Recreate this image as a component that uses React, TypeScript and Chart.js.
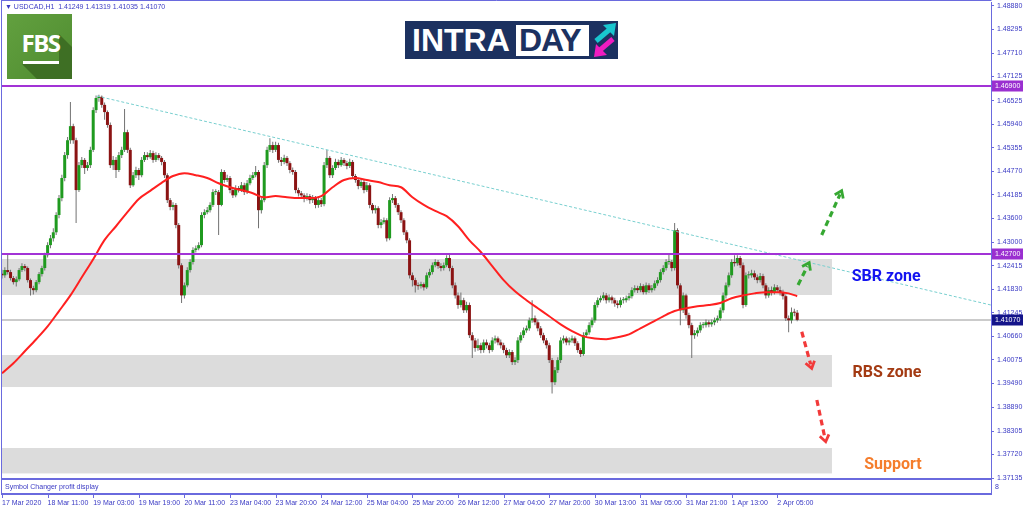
import React, { useEffect, useRef } from 'react';
import { Chart, registerables } from 'chart.js';

Chart.register(...registerables);

// ---------------- data ----------------
const chartTitle = '\u25BC USDCAD,H1  1.41249 1.41319 1.41035 1.41070';
const subWindowTitle = 'Symbol Changer profit display';

const firstOpen = 1.4222;
const closes = [
  1.4218, 1.4231, 1.4226, 1.4211, 1.4201, 1.4208, 1.4231, 1.4241, 1.4236, 1.4206,
  1.4186, 1.4181, 1.4201, 1.4221, 1.4236, 1.4268, 1.4293, 1.4310, 1.4325, 1.4368,
  1.4410, 1.4460, 1.4517, 1.4554, 1.4589, 1.4554, 1.4430, 1.4492, 1.4505, 1.4485,
  1.4492, 1.4530, 1.4629, 1.4659, 1.4662, 1.4642, 1.4624, 1.4592, 1.4492, 1.4505,
  1.4480, 1.4517, 1.4530, 1.4574, 1.4530, 1.4442, 1.4467, 1.4480, 1.4467, 1.4505,
  1.4517, 1.4512, 1.4522, 1.4505, 1.4517, 1.4510, 1.4500, 1.4467, 1.4405, 1.4388,
  1.4393, 1.4343, 1.4243, 1.4168, 1.4193, 1.4231, 1.4251, 1.4281, 1.4285, 1.4293,
  1.4368, 1.4375, 1.4380, 1.4393, 1.4425, 1.4425, 1.4393, 1.4475, 1.4455, 1.4460,
  1.4430, 1.4417, 1.4435, 1.4430, 1.4442, 1.4425, 1.4447, 1.4460, 1.4467, 1.4475,
  1.4380, 1.4405, 1.4492, 1.4530, 1.4542, 1.4530, 1.4542, 1.4505, 1.4500, 1.4510,
  1.4497, 1.4480, 1.4475, 1.4430, 1.4422, 1.4417, 1.4410, 1.4415, 1.4405, 1.4410,
  1.4393, 1.4405, 1.4395, 1.4492, 1.4510, 1.4467, 1.4485, 1.4500, 1.4492, 1.4505,
  1.4497, 1.4490, 1.4500, 1.4465, 1.4455, 1.4440, 1.4450, 1.4430, 1.4442, 1.4393,
  1.4380, 1.4385, 1.4343, 1.4350, 1.4355, 1.4310, 1.4405, 1.4410, 1.4393, 1.4375,
  1.4355, 1.4325, 1.4305, 1.4218, 1.4206, 1.4193, 1.4191, 1.4196, 1.4188, 1.4218,
  1.4226, 1.4243, 1.4251, 1.4241, 1.4236, 1.4243, 1.4261, 1.4236, 1.4193, 1.4168,
  1.4144, 1.4156, 1.4131, 1.4144, 1.4069, 1.4056, 1.4037, 1.4044, 1.4032, 1.4051,
  1.4044, 1.4032, 1.4056, 1.4061, 1.4051, 1.4044, 1.4032, 1.4019, 1.4027, 1.4002,
  1.4007, 1.4056, 1.4069, 1.4081, 1.4086, 1.4106, 1.4111, 1.4101, 1.4086, 1.4069,
  1.4056, 1.4044, 1.4007, 1.3952, 1.3982, 1.4007, 1.4056, 1.4061, 1.4051, 1.4056,
  1.4061, 1.4049, 1.4032, 1.4022, 1.4069, 1.4076, 1.4094, 1.4106, 1.4144, 1.4156,
  1.4161, 1.4168, 1.4156, 1.4163, 1.4156, 1.4148, 1.4144, 1.4156, 1.4156, 1.4161,
  1.4166, 1.4181, 1.4186, 1.4181, 1.4191, 1.4176, 1.4193, 1.4181, 1.4186, 1.4198,
  1.4206, 1.4226, 1.4236, 1.4251, 1.4251, 1.4236, 1.4330, 1.4193, 1.4131, 1.4168,
  1.4119, 1.4094, 1.4069, 1.4074, 1.4081, 1.4094, 1.4094, 1.4101, 1.4096, 1.4101,
  1.4106, 1.4111, 1.4131, 1.4168, 1.4193, 1.4218, 1.4251, 1.4248, 1.4261, 1.4243,
  1.4144, 1.4218, 1.4218, 1.4223, 1.4213, 1.4206, 1.4216, 1.4193, 1.4168, 1.4181,
  1.4176, 1.4188, 1.4181, 1.4176, 1.4166, 1.4111, 1.4106, 1.4126, 1.41249, 1.4107,
];
const highs = [
  1.4232, 1.4238, 1.4273, 1.4232, 1.4216, 1.4215, 1.4236, 1.4248, 1.4246, 1.4240,
  1.4210, 1.4192, 1.4206, 1.4226, 1.4242, 1.4274, 1.4300, 1.4318, 1.4335, 1.4375,
  1.4418, 1.4468, 1.4525, 1.4562, 1.4649, 1.4595, 1.4560, 1.4500, 1.4512, 1.4510,
  1.4500, 1.4538, 1.4636, 1.4665, 1.4667, 1.4665, 1.4648, 1.4628, 1.4598, 1.4515,
  1.4512, 1.4525, 1.4538, 1.4632, 1.4580, 1.4535, 1.4475, 1.4488, 1.4485, 1.4512,
  1.4525, 1.4524, 1.4530, 1.4528, 1.4524, 1.4522, 1.4515, 1.4505, 1.4472, 1.4410,
  1.4400, 1.4398, 1.4348, 1.4248, 1.4200, 1.4238, 1.4258, 1.4288, 1.4292, 1.4300,
  1.4375, 1.4382, 1.4388, 1.4400, 1.4432, 1.4432, 1.4430, 1.4482, 1.4480, 1.4468,
  1.4465, 1.4435, 1.4442, 1.4440, 1.4450, 1.4448, 1.4455, 1.4468, 1.4475, 1.4490,
  1.4480, 1.4412, 1.4500, 1.4538, 1.4559, 1.4550, 1.4550, 1.4548, 1.4512, 1.4518,
  1.4515, 1.4502, 1.4486, 1.4480, 1.4436, 1.4428, 1.4422, 1.4422, 1.4420, 1.4418,
  1.4415, 1.4412, 1.4410, 1.4500, 1.4530, 1.4515, 1.4492, 1.4508, 1.4506, 1.4512,
  1.4510, 1.4503, 1.4508, 1.4505, 1.4470, 1.4460, 1.4458, 1.4455, 1.4450, 1.4447,
  1.4398, 1.4392, 1.4390, 1.4358, 1.4362, 1.4360, 1.4412, 1.4420, 1.4415, 1.4398,
  1.4380, 1.4360, 1.4330, 1.4310, 1.4225, 1.4212, 1.4200, 1.4202, 1.4200, 1.4225,
  1.4234, 1.4250, 1.4258, 1.4256, 1.4248, 1.4250, 1.4268, 1.4272, 1.4242, 1.4200,
  1.4175, 1.4175, 1.4162, 1.4152, 1.4150, 1.4076, 1.4062, 1.4060, 1.4050, 1.4058,
  1.4058, 1.4050, 1.4064, 1.4068, 1.4066, 1.4058, 1.4050, 1.4038, 1.4034, 1.4032,
  1.4014, 1.4064, 1.4076, 1.4088, 1.4093, 1.4113, 1.4156, 1.4118, 1.4108, 1.4092,
  1.4075, 1.4062, 1.4050, 1.4012, 1.3990, 1.4014, 1.4064, 1.4068, 1.4066, 1.4063,
  1.4068, 1.4066, 1.4054, 1.4038, 1.4076, 1.4083, 1.4101, 1.4113, 1.4151, 1.4163,
  1.4168, 1.4176, 1.4174, 1.4170, 1.4168, 1.4162, 1.4155, 1.4163, 1.4164, 1.4168,
  1.4174, 1.4188, 1.4193, 1.4192, 1.4198, 1.4196, 1.4200, 1.4198, 1.4194, 1.4205,
  1.4213, 1.4233, 1.4243, 1.4258, 1.4270, 1.4256, 1.4348, 1.4335, 1.4198, 1.4175,
  1.4172, 1.4125, 1.4100, 1.4082, 1.4088, 1.4101, 1.4102, 1.4108, 1.4106, 1.4108,
  1.4113, 1.4118, 1.4138, 1.4175, 1.4200, 1.4225, 1.4258, 1.4268, 1.4268, 1.4266,
  1.4250, 1.4225, 1.4228, 1.4232, 1.4230, 1.4220, 1.4224, 1.4222, 1.4198, 1.4188,
  1.4190, 1.4196, 1.4194, 1.4190, 1.4182, 1.4170, 1.4118, 1.4138, 1.4135, 1.41319,
];
const lows = [
  1.4210, 1.4212, 1.4220, 1.4205, 1.4195, 1.4190, 1.4203, 1.4226, 1.4228, 1.4200,
  1.4168, 1.4170, 1.4176, 1.4196, 1.4215, 1.4230, 1.4262, 1.4285, 1.4302, 1.4318,
  1.4360, 1.4402, 1.4452, 1.4508, 1.4545, 1.4545, 1.4348, 1.4425, 1.4485, 1.4470,
  1.4478, 1.4485, 1.4525, 1.4622, 1.4650, 1.4635, 1.4605, 1.4585, 1.4485, 1.4480,
  1.4460, 1.4475, 1.4510, 1.4525, 1.4522, 1.4435, 1.4438, 1.4460, 1.4455, 1.4462,
  1.4500, 1.4505, 1.4508, 1.4498, 1.4500, 1.4504, 1.4492, 1.4460, 1.4398, 1.4380,
  1.4380, 1.4335, 1.4235, 1.4149, 1.4160, 1.4188, 1.4225, 1.4245, 1.4275, 1.4280,
  1.4288, 1.4360, 1.4370, 1.4374, 1.4388, 1.4418, 1.4318, 1.4390, 1.4448, 1.4450,
  1.4422, 1.4410, 1.4412, 1.4424, 1.4425, 1.4418, 1.4420, 1.4442, 1.4455, 1.4462,
  1.4335, 1.4372, 1.4400, 1.4485, 1.4525, 1.4522, 1.4525, 1.4498, 1.4490, 1.4494,
  1.4490, 1.4472, 1.4468, 1.4422, 1.4414, 1.4408, 1.4400, 1.4404, 1.4396, 1.4398,
  1.4385, 1.4386, 1.4388, 1.4390, 1.4485, 1.4460, 1.4460, 1.4480, 1.4485, 1.4488,
  1.4490, 1.4482, 1.4485, 1.4458, 1.4448, 1.4432, 1.4435, 1.4422, 1.4425, 1.4385,
  1.4372, 1.4372, 1.4335, 1.4335, 1.4345, 1.4302, 1.4305, 1.4398, 1.4386, 1.4368,
  1.4348, 1.4318, 1.4298, 1.4210, 1.4190, 1.4175, 1.4182, 1.4185, 1.4180, 1.4184,
  1.4212, 1.4220, 1.4238, 1.4234, 1.4228, 1.4230, 1.4238, 1.4228, 1.4186, 1.4160,
  1.4135, 1.4138, 1.4124, 1.4125, 1.4062, 1.4012, 1.4028, 1.4030, 1.4024, 1.4025,
  1.4036, 1.4024, 1.4028, 1.4048, 1.4044, 1.4036, 1.4024, 1.4012, 1.4012, 1.3995,
  1.3995, 1.4000, 1.4050, 1.4062, 1.4075, 1.4080, 1.4100, 1.4094, 1.4079, 1.4062,
  1.4049, 1.4036, 1.4000, 1.3924, 1.3945, 1.3975, 1.4000, 1.4048, 1.4044, 1.4044,
  1.4050, 1.4042, 1.4025, 1.4015, 1.4018, 1.4062, 1.4070, 1.4088, 1.4100, 1.4138,
  1.4150, 1.4155, 1.4148, 1.4150, 1.4148, 1.4140, 1.4136, 1.4138, 1.4148, 1.4150,
  1.4155, 1.4160, 1.4175, 1.4174, 1.4176, 1.4170, 1.4170, 1.4174, 1.4175, 1.4180,
  1.4192, 1.4200, 1.4220, 1.4230, 1.4244, 1.4228, 1.4230, 1.4185, 1.4094, 1.4124,
  1.4110, 1.4086, 1.4012, 1.4060, 1.4066, 1.4075, 1.4086, 1.4088, 1.4089, 1.4090,
  1.4094, 1.4100, 1.4105, 1.4125, 1.4160, 1.4188, 1.4212, 1.4240, 1.4242, 1.4236,
  1.4136, 1.4140, 1.4210, 1.4212, 1.4206, 1.4198, 1.4200, 1.4186, 1.4160, 1.4162,
  1.4168, 1.4170, 1.4174, 1.4168, 1.4158, 1.4104, 1.4076, 1.4098, 1.4116, 1.41035,
];

const maIndex = [
  0, 4, 8, 12, 16, 20, 24, 28, 32, 36, 40, 44, 48, 52, 56, 60, 64, 68, 72, 76,
  80, 84, 88, 92, 96, 100, 104, 108, 112, 116, 120, 124, 128, 132, 136, 140, 144, 148, 152, 156,
  160, 164, 168, 172, 176, 180, 184, 188, 192, 196, 200, 204, 208, 212, 216, 220, 224, 228, 232, 236,
  240, 244, 248, 252, 256, 260, 264, 268, 272, 276, 279,
];
const maValues = [
  1.3974, 1.3999, 1.4029, 1.4059, 1.4091, 1.4129, 1.4168, 1.4213, 1.4258, 1.4306,
  1.4340, 1.4375, 1.4408, 1.4428, 1.4448, 1.4465, 1.4472, 1.4467, 1.4460, 1.4447,
  1.4437, 1.4430, 1.4422, 1.4412, 1.4415, 1.4412, 1.4410, 1.4410, 1.4415, 1.4437,
  1.4455, 1.4460, 1.4455, 1.4450, 1.4442, 1.4437, 1.4412, 1.4393, 1.4378, 1.4365,
  1.4340, 1.4305, 1.4276, 1.4241, 1.4206, 1.4178, 1.4156, 1.4136, 1.4116, 1.4096,
  1.4079, 1.4066, 1.4061, 1.4059, 1.4064, 1.4071, 1.4086, 1.4101, 1.4116, 1.4129,
  1.4136, 1.4141, 1.4144, 1.4149, 1.4161, 1.4168, 1.4173, 1.4176, 1.4176, 1.4173, 1.4166,
];

const trendIndex = [33.3, 347];
const trendValues = [1.4664, 1.4144];

const levelValues = [1.469, 1.427];
const lastPrice = 1.4107;

const zoneNames = ['SBR zone', 'RBS zone', 'Support'];
const zoneTops = [1.42585, 1.40197, 1.37883];
const zoneBottoms = [1.41689, 1.394, 1.37251];
const zoneEndIndex = 291.2;
const zoneTextIndex = [310.2, 310.5, 312.6];
const zoneTextValues = [1.42137, 1.39749, 1.3746];
const zoneTextColors = ['#1414f0', '#a33a12', '#f57d2c'];

const arrowFromIndex = [279.3, 287.6, 280.6, 285.9];
const arrowFromValues = [1.41938, 1.43182, 1.40776, 1.39077];
const arrowToIndex = [283.2, 294.6, 284.1, 289.0];
const arrowToValues = [1.42493, 1.44284, 1.39866, 1.3804];
const arrowColors = ['#36a832', '#36a832', '#f23a3a', '#f23a3a'];

const xTickIndex = [0, 16, 32, 48, 64, 80, 96, 112, 128, 144, 160, 176, 192, 208, 224, 240, 256, 272];
const xTickLabels = [
  '17 Mar 2020', '18 Mar 11:00', '19 Mar 03:00', '19 Mar 19:00', '20 Mar 11:00', '23 Mar 04:00',
  '23 Mar 20:00', '24 Mar 12:00', '25 Mar 04:00', '25 Mar 20:00', '26 Mar 12:00', '27 Mar 04:00',
  '27 Mar 20:00', '30 Mar 13:00', '31 Mar 05:00', '31 Mar 21:00', '1 Apr 13:00', '2 Apr 05:00',
];
const yTickValues = [
  1.4888, 1.48295, 1.4771, 1.47125, 1.46525, 1.4594, 1.45355, 1.4477, 1.44185, 1.436, 1.43,
  1.42415, 1.4183, 1.41245, 1.4066, 1.40075, 1.3949, 1.3889, 1.38305, 1.3772, 1.37135,
];

// ---------------- styling ----------------
const FRAME = '#6a6ade';
const AXIS_TEXT = '#3a3ac4';
const SMALL_FONT = '7px "Liberation Sans", Arial, sans-serif';

function drawArrow(ctx: any, x1: number, y1: number, x2: number, y2: number, color: string) {
  const ang = Math.atan2(y2 - y1, x2 - x1);
  ctx.save();
  ctx.strokeStyle = color;
  ctx.lineWidth = 3.2;
  ctx.setLineDash([6, 4]);
  ctx.beginPath();
  ctx.moveTo(x1, y1);
  ctx.lineTo(x2 - Math.cos(ang) * 4, y2 - Math.sin(ang) * 4);
  ctx.stroke();
  ctx.setLineDash([]);
  ctx.lineWidth = 2.8;
  const h = 8;
  const s = 0.62;
  ctx.beginPath();
  ctx.moveTo(x2 - h * Math.cos(ang - s), y2 - h * Math.sin(ang - s));
  ctx.lineTo(x2, y2);
  ctx.lineTo(x2 - h * Math.cos(ang + s), y2 - h * Math.sin(ang + s));
  ctx.stroke();
  ctx.restore();
}

const mt4Plugin = {
  id: 'mt4Decor',
  beforeDatasetsDraw(chart: any) {
    const { ctx, chartArea: a, scales } = chart;
    const x = scales.x;
    const y = scales.y;
    ctx.save();
    ctx.beginPath();
    ctx.rect(a.left, a.top, a.right - a.left, a.bottom - a.top);
    ctx.clip();
    ctx.fillStyle = '#dcdcdc';
    const xr = x.getPixelForValue(zoneEndIndex);
    zoneTops.forEach((t, k) => {
      const yt = y.getPixelForValue(t);
      const yb = y.getPixelForValue(zoneBottoms[k]);
      ctx.fillRect(a.left, yt, xr - a.left, yb - yt);
    });
    ctx.strokeStyle = '#bababa';
    ctx.lineWidth = 1.5;
    const yl = y.getPixelForValue(lastPrice);
    ctx.beginPath();
    ctx.moveTo(a.left, yl);
    ctx.lineTo(a.right, yl);
    ctx.stroke();
    ctx.restore();
  },
  afterDatasetsDraw(chart: any) {
    const { ctx, chartArea: a, scales } = chart;
    const y = scales.y;
    ctx.save();
    ctx.strokeStyle = '#a233d6';
    ctx.lineWidth = 2;
    levelValues.forEach((v) => {
      const yy = Math.round(y.getPixelForValue(v));
      ctx.beginPath();
      ctx.moveTo(a.left, yy);
      ctx.lineTo(a.right, yy);
      ctx.stroke();
    });
    ctx.restore();
  },
  afterDraw(chart: any) {
    const { ctx, chartArea: a, scales } = chart;
    const x = scales.x;
    const y = scales.y;
    ctx.save();

    // arrows
    arrowFromIndex.forEach((fi, k) => {
      drawArrow(
        ctx,
        x.getPixelForValue(fi),
        y.getPixelForValue(arrowFromValues[k]),
        x.getPixelForValue(arrowToIndex[k]),
        y.getPixelForValue(arrowToValues[k]),
        arrowColors[k]
      );
    });

    // zone labels
    ctx.font = 'bold 16px Roboto, "Liberation Sans", sans-serif';
    ctx.textAlign = 'center';
    ctx.textBaseline = 'middle';
    zoneNames.forEach((n, k) => {
      ctx.fillStyle = zoneTextColors[k];
      ctx.fillText(n, x.getPixelForValue(zoneTextIndex[k]), y.getPixelForValue(zoneTextValues[k]));
    });

    // header
    ctx.font = SMALL_FONT;
    ctx.textAlign = 'left';
    ctx.fillStyle = AXIS_TEXT;
    ctx.fillText(chartTitle, 5, 7.5);

    // price boxes on the axis
    const box = (v: number, bg: string) => {
      const yy = Math.round(y.getPixelForValue(v));
      ctx.fillStyle = bg;
      ctx.fillRect(a.right + 1, yy - 5.5, 31, 11);
      ctx.fillStyle = '#ffffff';
      ctx.font = SMALL_FONT;
      ctx.textAlign = 'left';
      ctx.textBaseline = 'middle';
      ctx.fillText(v.toFixed(5), a.right + 4, yy + 0.5);
    };
    levelValues.forEach((v) => box(v, '#9a2fd0'));
    box(lastPrice, '#14148a');

    // frame + sub window
    ctx.strokeStyle = FRAME;
    ctx.lineWidth = 1;
    ctx.beginPath();
    ctx.moveTo(1.5, 0.5);
    ctx.lineTo(1.5, 494);
    ctx.moveTo(1, 0.5);
    ctx.lineTo(a.right + 0.5, 0.5);
    ctx.moveTo(a.right + 0.5, a.bottom);
    ctx.lineTo(a.right + 0.5, 495);
    ctx.stroke();
    ctx.lineWidth = 2;
    ctx.beginPath();
    ctx.moveTo(1, 494);
    ctx.lineTo(a.right + 1, 494);
    ctx.stroke();
    ctx.lineWidth = 1;
    ctx.beginPath();
    xTickIndex.forEach((i) => {
      const px = Math.round(x.getPixelForValue(i)) + 0.5;
      ctx.moveTo(px, 495);
      ctx.lineTo(px, 498);
    });
    ctx.stroke();
    ctx.fillStyle = AXIS_TEXT;
    ctx.font = SMALL_FONT;
    ctx.textAlign = 'left';
    ctx.textBaseline = 'middle';
    ctx.fillText(subWindowTitle, 5, 487);
    ctx.fillText('8', a.right + 4, 487);
    ctx.restore();
  },
};

function FbsLogo() {
  return (
    <div
      style={{
        position: 'absolute',
        left: 7,
        top: 14,
        width: 65,
        height: 65,
        background: 'linear-gradient(135deg, #62a03f 0%, #4f8c30 100%)',
        overflow: 'hidden',
      }}
    >
      <div
        style={{
          position: 'absolute',
          left: 0,
          top: 0,
          width: 65,
          height: 65,
          background: '#3e6f24',
          clipPath: 'polygon(15px 50px, 52px 50px, 52px 20px, 65px 33px, 65px 65px, 30px 65px)',
        }}
      />
      <div
        style={{
          position: 'absolute',
          left: 0,
          top: 17,
          width: 67,
          textAlign: 'center',
          color: '#ffffff',
          font: '700 24px/24px "Open Sans", sans-serif',
          letterSpacing: '-1.5px',
        }}
      >
        FBS
      </div>
      <div style={{ position: 'absolute', left: 16, top: 47, width: 36, height: 3, background: '#ffffff' }} />
    </div>
  );
}

function IntradayLogo() {
  return (
    <div
      style={{
        position: 'absolute',
        left: 405,
        top: 21,
        width: 213,
        height: 38,
        background: '#1c3160',
      }}
    >
      <div
        style={{
          position: 'absolute',
          left: 7,
          top: 3,
          color: '#ffffff',
          font: '700 32px/33px "Liberation Sans", Arial, sans-serif',
        }}
      >
        INTRA
      </div>
      <div
        style={{
          position: 'absolute',
          left: 111,
          top: 4,
          width: 73,
          height: 31,
          background: '#ffffff',
        }}
      >
        <div
          style={{
            position: 'absolute',
            left: 3,
            top: -1,
            color: '#1c3160',
            font: '700 32px/33px "Liberation Sans", Arial, sans-serif',
            letterSpacing: '-1px',
          }}
        >
          DAY
        </div>
      </div>
      <svg style={{ position: 'absolute', left: 187, top: 1, width: 26, height: 36 }} viewBox="0 0 26 36">
        <line x1="4" y1="19" x2="17" y2="8" stroke="#19c6cf" strokeWidth="5" />
        <polygon points="24,1 11,3 22,14" fill="#19c6cf" />
        <line x1="21" y1="17" x2="8" y2="28" stroke="#f01cc0" strokeWidth="5" />
        <polygon points="2,35 15,33 4,22" fill="#f01cc0" />
      </svg>
    </div>
  );
}

export default function App() {
  const canvasRef = useRef<HTMLCanvasElement | null>(null);

  useEffect(() => {
    const canvas = canvasRef.current;
    if (!canvas) return;
    const opens = closes.map((c, i) => (i === 0 ? firstOpen : closes[i - 1]));
    const wickData = closes.map((_, i) => ({ x: i, y: [lows[i], highs[i]] }));
    const bodyData = closes.map((c, i) => ({ x: i, y: [opens[i], c] }));
    const bodyColors = closes.map((c, i) => (c >= opens[i] ? '#1f9a1f' : '#8b1313'));
    const maData = maIndex.map((i, k) => ({ x: i, y: maValues[k] }));
    const trendData = trendIndex.map((i, k) => ({ x: i, y: trendValues[k] }));

    const chart = new Chart(canvas, {
      type: 'bar',
      data: {
        datasets: [
          {
            type: 'line',
            data: maData,
            borderColor: '#ff2020',
            borderWidth: 2,
            pointRadius: 0,
            cubicInterpolationMode: 'monotone',
            order: 0,
          } as any,
          {
            type: 'line',
            data: trendData,
            borderColor: '#78cfcf',
            borderWidth: 1,
            borderDash: [3, 2],
            pointRadius: 0,
            order: 1,
          } as any,
          {
            type: 'bar',
            data: bodyData,
            backgroundColor: bodyColors,
            barThickness: 3,
            grouped: false,
            minBarLength: 1,
            inflateAmount: 0,
            order: 2,
          } as any,
          {
            type: 'bar',
            data: wickData,
            backgroundColor: '#727272',
            barThickness: 1,
            grouped: false,
            inflateAmount: 0,
            order: 3,
          } as any,
        ],
      },
      options: {
        animation: false,
        responsive: false,
        maintainAspectRatio: false,
        layout: { padding: { left: 2, top: 2, right: 0, bottom: 0 } },
        plugins: { legend: { display: false }, tooltip: { enabled: false } },
        scales: {
          x: {
            type: 'linear',
            min: 0,
            max: 347,
            offset: false,
            grid: { display: false, drawTicks: false },
            border: { display: true, color: FRAME, width: 2 },
            ticks: {
              autoSkip: false,
              maxRotation: 0,
              minRotation: 0,
              align: 'start',
              padding: 20,
              color: AXIS_TEXT,
              font: { family: '"Liberation Sans", Arial, sans-serif', size: 7 },
              callback: (v: any) => {
                const k = xTickIndex.indexOf(Number(v));
                return k >= 0 ? xTickLabels[k] : '';
              },
            },
            afterBuildTicks: (s: any) => {
              s.ticks = xTickIndex.map((v) => ({ value: v }));
            },
            afterFit: (s: any) => {
              s.height = 32;
              s.paddingLeft = 0;
              s.paddingRight = 0;
            },
          },
          y: {
            position: 'right',
            min: 1.37112,
            max: 1.48979,
            grid: { display: true, drawOnChartArea: false, drawTicks: true, tickLength: 3, color: FRAME },
            border: { display: true, color: FRAME, width: 1 },
            ticks: {
              autoSkip: false,
              padding: 3,
              color: AXIS_TEXT,
              font: { family: '"Liberation Sans", Arial, sans-serif', size: 7 },
              callback: (v: any) => Number(v).toFixed(5),
            },
            afterBuildTicks: (s: any) => {
              s.ticks = yTickValues.map((v) => ({ value: v }));
            },
            afterFit: (s: any) => {
              s.width = 33;
              s.paddingTop = 0;
              s.paddingBottom = 0;
            },
          },
        },
      } as any,
      plugins: [mt4Plugin as any],
    });
    return () => chart.destroy();
  }, []);

  return (
    <div
      style={{
        position: 'absolute',
        left: 0,
        top: 0,
        width: 1024,
        height: 511,
        background: '#ffffff',
        overflow: 'hidden',
      }}
    >
      <canvas
        ref={canvasRef}
        width={1024}
        height={511}
        style={{ position: 'absolute', left: 0, top: 0, width: 1024, height: 511 }}
      />
      <FbsLogo />
      <IntradayLogo />
    </div>
  );
}
